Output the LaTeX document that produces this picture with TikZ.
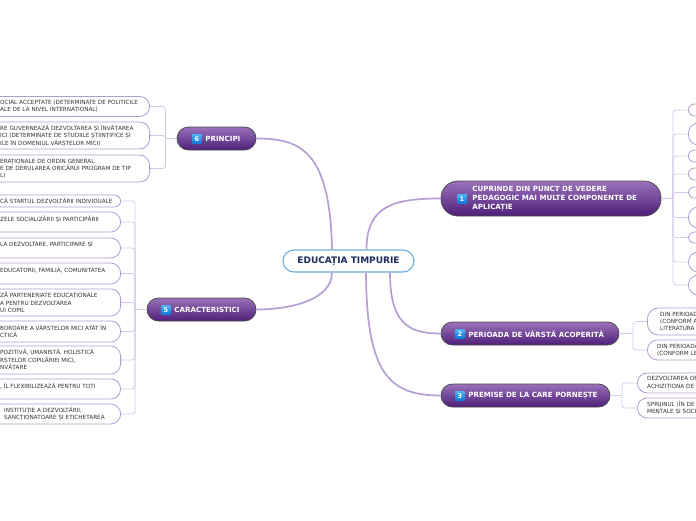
\documentclass[tikz,border=0pt]{standalone}
\usepackage{fontspec}
\setmainfont{DejaVu Sans}
\usetikzlibrary{positioning}
\definecolor{branchc}{HTML}{B59FD3}
\definecolor{twigc}{HTML}{D6C8E8}
\definecolor{leafline}{HTML}{B39AD0}
\definecolor{topictop}{HTML}{9A72BA}
\definecolor{topicmid}{HTML}{6A3A95}
\definecolor{topicbot}{HTML}{4E1F78}
\definecolor{badgetop}{HTML}{4DB5F5}
\definecolor{badgebot}{HTML}{0B72D4}
\definecolor{navy}{HTML}{1B2B5C}
\definecolor{rootline}{HTML}{6AAEE0}
\begin{document}
\begin{tikzpicture}[x=1pt,y=-1pt,
  root/.style={draw=rootline,line width=1.1pt,fill=white,rounded corners=11pt,minimum width=131pt,minimum height=22pt,inner sep=0pt,text=navy,font=\bfseries\fontsize{9}{10}\selectfont},
  topic/.style={draw=black!70,line width=0.8pt,top color=topictop,middle color=topicmid,bottom color=topicbot,rounded corners=11.5pt,minimum height=23pt,inner sep=0pt},
  badge/.style={top color=badgetop,bottom color=badgebot,rounded corners=1pt,minimum size=10pt,inner sep=0pt,text=white,font=\bfseries\fontsize{6.5}{7}\selectfont},
  ttext/.style={text=white,font=\bfseries\fontsize{7.1}{9}\selectfont,inner sep=0pt,align=left},
  leaf/.style={draw=leafline,line width=0.8pt,fill=white,minimum width=220pt,inner sep=0pt},
  ltext/.style={text=black!80,font=\fontsize{5.7}{7.2}\selectfont,inner sep=0pt,align=left,anchor=west},
  branch/.style={draw=branchc,line width=1.7pt},
  twig/.style={draw=twigc,line width=0.8pt,rounded corners=3pt}]
\useasboundingbox (0,0) rectangle (696,520);
\clip (0,0) rectangle (696,520);
% centre and main topics
\node[root] (edu) at (348.5,261) {EDUCAȚIA TIMPURIE};
\node[topic,minimum width=79pt] (princ) at (216.5,138.5) {};
\node[topic,minimum width=109pt] (carac) at (201.5,309.5) {};
\node[topic,minimum width=220pt,minimum height=35pt,rounded corners=17pt] (cupr) at (551,198.5) {};
\node[topic,minimum width=178pt] (peri) at (530,333.5) {};
\node[topic,minimum width=169pt] (prem) at (525.5,395.5) {};
\draw[branch] ([xshift=-16.5pt]edu.north) .. controls (330,150) and (300,138.5) .. (princ.east);
\draw[branch] ([xshift=-16.5pt]edu.south) .. controls (332,300) and (290,309.5) .. (carac.east);
\draw[branch] ([xshift=18pt]edu.north) .. controls (366.5,205) and (395,198.5) .. (cupr.west);
\draw[branch] ([xshift=41.5pt]edu.south) .. controls (390,325) and (410,333.5) .. (peri.west);
\draw[branch] ([xshift=17.5pt]edu.south) .. controls (366.5,375) and (390,395.5) .. (prem.west);
\node[badge] (b6) at (197,139) {6};
\node[ttext,right=3pt of b6] (princt) {PRINCIPI};
\node[badge] (b5) at (166,310) {5};
\node[ttext,right=3pt of b5] (caract) {CARACTERISTICI};
\node[badge] (b1) at (462,199) {1};
\node[ttext,right=5pt of b1] (cuprt) {CUPRINDE DIN PUNCT DE VEDERE\\PEDAGOGIC MAI MULTE COMPONENTE DE\\APLICAȚIE};
\node[badge] (b2) at (460,334) {2};
\node[ttext,right=3pt of b2] (perit) {PERIOADA DE VÂRSTĂ ACOPERITĂ};
\node[badge] (b3) at (460,396) {3};
\node[ttext,right=3pt of b3] (premt) {PREMISE DE LA CARE PORNEȘTE};
% PRINCIPI
\coordinate (pb) at (165.5,138.5);
\draw[twig] (princ.west) -- (pb);
\foreach \y/\h/\txt [count=\i, evaluate=\h as \r using {min(\h/2,10)}] in {
  106.5/20/{OCIAL ACCEPTATE (DETERMINATE DE POLITICILE\\ALE DE LA NIVEL INTERNAȚIONAL)},
  135.5/27/{RE GUVERNEAZĂ DEZVOLTAREA ȘI ÎNVĂȚAREA\\ICI (DETERMINATE DE STUDIILE ȘTIINȚIFICE ȘI\\ILE ÎN DOMENIUL VÂRSTELOR MICI)},
  168.5/27/{ERAȚIONALE DE ORDIN GENERAL\\E DE DERULAREA ORICĂRUI PROGRAM DE TIP\\L)}} {
  \draw[twig] (pb) |- (150,\y);
  \node[leaf,minimum height=\h pt,rounded corners=\r pt,anchor=east] (p\i) at (150,\y) {};
  \node[ltext] (pt\i) at (0,\y) {\txt};
}
% CARACTERISTICI
\coordinate (cb) at (135,309.5);
\draw[twig] (carac.west) -- (cb);
\foreach \y/\h/\txt [count=\i, evaluate=\h as \r using {min(\h/2,10)}] in {
  201/12/{CĂ STARTUL DEZVOLTĂRII INDIVIDUALE},
  222/20/{ZELE SOCIALIZĂRII ȘI PARTICIPĂRII\\~},
  248/20/{LA DEZVOLTARE, PARTICIPARE ȘI\\~},
  273.5/21/{EDUCATORII, FAMILIA, COMUNITATEA\\~},
  302.5/27/{ZĂ PARTENERIATE EDUCAȚIONALE\\A PENTRU DEZVOLTAREA\\UI COPIL},
  331.5/21/{BORDARE A VÂRSTELOR MICI ATÂT ÎN\\CTICĂ},
  360/28/{POZITIVĂ, UMANISTĂ, HOLISTICĂ\\RSTELOR COPILĂRIEI MICI,\\NVĂȚARE},
  389/20/{, ÎL FLEXIBILIZEAZĂ PENTRU TOȚI\\~},
  414/20/{\hspace*{4pt}INSTITUȚIE A DEZVOLTĂRII,\\\hspace*{4pt}SANCȚIONATOARE ȘI ETICHETAREA}} {
  \draw[twig] (cb) |- (121,\y);
  \node[leaf,minimum height=\h pt,rounded corners=\r pt,anchor=east] (c\i) at (121,\y) {};
  \node[ltext] (ct\i) at (0,\y) {\txt};
}
% CUPRINDE
\coordinate (kb) at (673,198.5);
\draw[twig] (cupr.east) -- (kb);
\foreach \y/\h [count=\i, evaluate=\h as \r using {min(\h/2,10)}] in {110/12,134/22,156/12,174/12,192.5/11,217.5/21,237.5/11,262/20,285/20} {
  \draw[twig] (kb) |- (688,\y);
  \node[leaf,minimum height=\h pt,rounded corners=\r pt,anchor=west] (k\i) at (688,\y) {};
}
% PERIOADA
\coordinate (rb) at (633,333.5);
\draw[twig] (peri.east) -- (rb);
\foreach \y/\h/\x/\txt [count=\i, evaluate=\h as \r using {min(\h/2,11)}] in {
  321.5/27/660/{DIN PERIOAD\\(CONFORM A\\LITERATURA},
  350/20/657/{DIN PERIOADA\\(CONFORM LE}} {
  \draw[twig] (rb) |- (647,\y);
  \node[leaf,minimum height=\h pt,rounded corners=\r pt,anchor=west] (r\i) at (647,\y) {};
  \node[ltext] (rt\i) at (\x,\y) {\txt};
}
% PREMISE
\coordinate (mb) at (622,395.5);
\draw[twig] (prem.east) -- (mb);
\foreach \y/\h/\x/\txt [count=\i, evaluate=\h as \r using {min(\h/2,10)}] in {
  383/20/647/{DEZVOLTAREA OF\\ACHIZIȚIONA DE},
  408/20/647/{SPRIJINUL (ÎN DE\\MENTALE ȘI SOCI}} {
  \draw[twig] (mb) |- (637,\y);
  \node[leaf,minimum height=\h pt,rounded corners=\r pt,anchor=west] (m\i) at (637,\y) {};
  \node[ltext] (mt\i) at (\x,\y) {\txt};
}
\end{tikzpicture}
\end{document}
